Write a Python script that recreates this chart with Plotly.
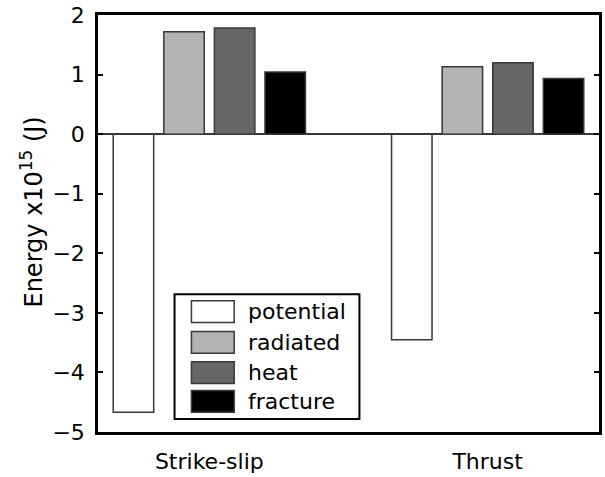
import plotly.graph_objects as go

# Energy budget per fault type (x10^15 J)
categories = ["Strike-slip", "Thrust"]
series_names = ["potential", "radiated", "heat", "fracture"]
potential = [-4.67, -3.45]
radiated = [1.72, 1.13]
heat = [1.78, 1.20]
fracture = [1.045, 0.935]
series_values = [potential, radiated, heat, fracture]
series_colors = ["#ffffff", "#b3b3b3", "#676767", "#000000"]

y_ticks = [2, 1, 0, -1, -2, -3, -4, -5]
x_pos = [1, 2]

FONT = "DejaVu Sans, Liberation Sans, Arial, sans-serif"

fig = go.Figure()
for name, vals, col in zip(series_names, series_values, series_colors):
    fig.add_trace(go.Bar(
        x=x_pos, y=vals, name=name,
        marker=dict(color=col, line=dict(color="#383838", width=1.5)),
        showlegend=False,
    ))

W, H = 605, 477
L, R, T, B = 98, 3, 15, 41
pw, ph = W - L - R, H - T - B


def px(x):
    return (x - L) / pw


def py(y):
    return (H - B - y) / ph


# Legend panel drawn in paper coordinates
shapes = [dict(type="rect", xref="paper", yref="paper",
               x0=px(175), x1=px(361), y0=py(423), y1=py(297),
               fillcolor="white", line=dict(color="black", width=2), layer="above")]
annotations = []
row_centers = [314.5, 345.5, 376, 405]
for name, col, cy in zip(series_names, series_colors, row_centers):
    shapes.append(dict(type="rect", xref="paper", yref="paper",
                       x0=px(192), x1=px(235), y0=py(cy + 11), y1=py(cy - 11),
                       fillcolor=col, line=dict(color="#383838", width=1.5), layer="above"))
    annotations.append(dict(xref="paper", yref="paper", x=px(247), y=py(cy),
                            text=name, showarrow=False, xanchor="left", yanchor="middle",
                            font=dict(family=FONT, size=22, color="black")))

# Vertical axis title
annotations.append(dict(xref="paper", yref="paper", x=px(32), y=py(214),
                        text="Energy x10<sup>15</sup> (J)", textangle=-90,
                        showarrow=False, xanchor="center", yanchor="middle",
                        font=dict(family=FONT, size=24, color="black")))

fig.update_layout(
    width=W, height=H,
    margin=dict(l=L, r=R, t=T, b=B, pad=0),
    paper_bgcolor="white", plot_bgcolor="white",
    barmode="group", bargap=0.273, bargroupgap=0.2,
    font=dict(family=FONT, size=22, color="black"),
    shapes=shapes, annotations=annotations,
    showlegend=False,
)
fig.update_xaxes(
    range=[0.6, 2.4], tickvals=x_pos, ticktext=categories,
    showline=True, linecolor="black", linewidth=2.5, mirror=True,
    ticks="", showgrid=False, zeroline=False,
    tickfont=dict(family=FONT, size=22), ticklabelstandoff=8,
)
fig.update_yaxes(
    range=[-5, 2], tickvals=y_ticks,
    showline=True, linecolor="black", linewidth=2.5, mirror="ticks",
    ticks="inside", ticklen=5, tickwidth=1.5, tickcolor="black",
    showgrid=False, zeroline=True, zerolinecolor="#383838", zerolinewidth=1.5,
    tickfont=dict(family=FONT, size=22), ticklabelstandoff=6,
)

fig.write_html("out.html")
